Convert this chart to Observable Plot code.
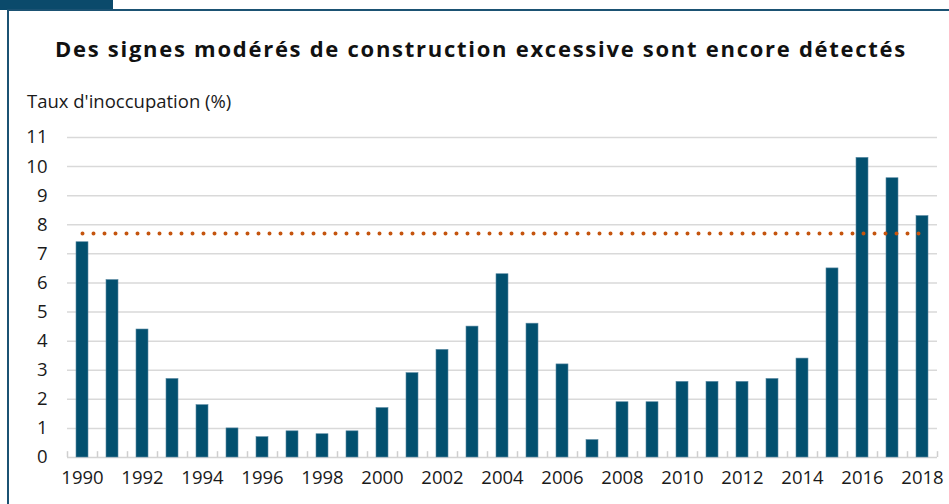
<!DOCTYPE html>
<html>
<head>
<meta charset="utf-8">
<script src="https://cdn.jsdelivr.net/npm/d3@7"></script>
<script src="https://cdn.jsdelivr.net/npm/@observablehq/plot@0.6"></script>
<style>
  html, body { margin: 0; padding: 0; background: #fff; width: 949px; height: 504px; overflow: hidden; font-family: "Open Sans", Lato, sans-serif; }
  ::-webkit-scrollbar { display: none; width: 0; height: 0; }
  #tab { position: absolute; left: 0; top: 0; width: 113px; height: 10px; background: #0b4a6b; }
  #frame { position: absolute; left: 7px; top: 9px; right: 0; bottom: 0; border-left: 2px solid #1b5273; border-top: 2px solid #1b5273; }
  #title { position: absolute; left: 0; top: 33px; font-weight: bold; font-size: 22px; color: #111; white-space: nowrap; }
  #subtitle { position: absolute; left: 27px; top: 88px; font-size: 18.5px; color: #1a1a1a; white-space: nowrap; }
  #chart { position: absolute; left: 0; top: 120px; height: 384px; overflow: hidden; }
  #chart svg { display: block; }
</style>
</head>
<body>
<div id="tab"></div>
<div id="frame"></div>
<div id="title">Des signes modérés de construction excessive sont encore détectés</div>
<div id="subtitle">Taux d'inoccupation (%)</div>
<div id="chart"></div>
<script>
const years = [1990,1991,1992,1993,1994,1995,1996,1997,1998,1999,2000,2001,2002,2003,2004,2005,2006,2007,2008,2009,2010,2011,2012,2013,2014,2015,2016,2017,2018];
const vacancy = [7.4,6.1,4.4,2.7,1.8,1.0,0.7,0.9,0.8,0.9,1.7,2.9,3.7,4.5,6.3,4.6,3.2,0.6,1.9,1.9,2.6,2.6,2.6,2.7,3.4,6.5,10.3,9.6,8.3];
const averageLevel = 7.7;
const yTicks = [0,1,2,3,4,5,6,7,8,9,10,11];
const xTickLabels = [1990,1992,1994,1996,1998,2000,2002,2004,2006,2008,2010,2012,2014,2016,2018];

const data = years.map((y, i) => ({year: y, value: vacancy[i]}));
const avgLine = [{year: years[0], value: averageLevel}, {year: years[years.length - 1], value: averageLevel}];

const plot = Plot.plot({
  width: 949,
  height: 384,
  marginLeft: 67,
  marginRight: 12,
  marginTop: 17,
  marginBottom: 47,
  style: {fontFamily: '"Open Sans", Lato, sans-serif', fontSize: "18.5px", color: "#1a1a1a", background: "transparent"},
  x: {type: "band", domain: years, paddingInner: 0.6, paddingOuter: 0.3, label: null, tickSize: 0, tickPadding: 13, ticks: xTickLabels, tickFormat: d => String(d)},
  y: {domain: [0, 11], ticks: yTicks, label: null, tickSize: 0, tickPadding: 20},
  marks: [
    Plot.ruleY(yTicks.filter(d => d > 0), {stroke: "#d9d9d9", strokeWidth: 1.5}),
    Plot.ruleY([0], {stroke: "#d4d4d4", strokeWidth: 1.5}),
    Plot.ruleX(years, {x: d => d, y1: 0, y2: 0.2, dx: -15, stroke: "#cfcfcf", strokeWidth: 1.5}),
    Plot.ruleX([years[years.length - 1]], {x: d => d, y1: 0, y2: 0.2, dx: 15, stroke: "#cfcfcf", strokeWidth: 1.5}),
    Plot.barY(data, {x: "year", y: "value", fill: "#02506f", stroke: "#5b8aa3", strokeWidth: 0.6}),
    Plot.lineY(avgLine, {x: "year", y: "value", stroke: "#c4540e", strokeWidth: 4, strokeDasharray: "0 11", strokeLinecap: "round"})
  ]
});
document.getElementById("chart").appendChild(plot);

// fit the title to the reference's span (x 55 → 907)
const title = document.getElementById("title");
const targetLeft = 55, targetWidth = 852;
const w = title.getBoundingClientRect().width;
const n = title.textContent.length;
title.style.letterSpacing = Math.max(0, (targetWidth - w) / n) + "px";
title.style.left = targetLeft + "px";
</script>
</body>
</html>
